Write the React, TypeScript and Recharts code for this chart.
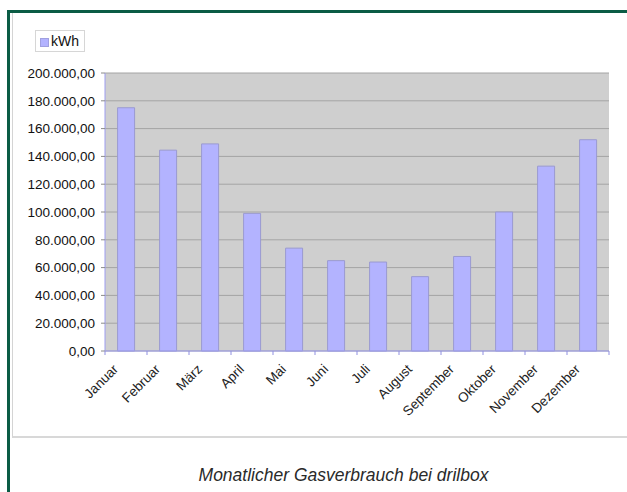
import { BarChart, Bar, XAxis, YAxis, CartesianGrid, Legend } from 'recharts'

const months = [
  'Januar', 'Februar', 'März', 'April', 'Mai', 'Juni',
  'Juli', 'August', 'September', 'Oktober', 'November', 'Dezember',
]
const kwh = [175000, 144500, 149000, 99000, 74000, 65000, 64000, 53500, 68000, 100000, 133000, 152000]
const yTicks = [0, 20000, 40000, 60000, 80000, 100000, 120000, 140000, 160000, 180000, 200000]

const data = months.map((m, i) => ({ month: m, kWh: kwh[i] }))

const W = 627
const H = 492
const X_H = 30
const M = { top: 73, right: 18, bottom: 141 - X_H, left: 0 }
const Y_W = 105
const BAND = (W - M.right - Y_W) / months.length
const FONT = 'Arial, "Liberation Sans", sans-serif'

const fmt = (v: number) => {
  const [i, d] = v.toFixed(2).split('.')
  return i.replace(/\B(?=(\d{3})+(?!\d))/g, '.') + ',' + d
}

const XTick = (props: any) => {
  const { x, y, payload, index } = props
  const half = BAND / 2
  return (
    <g>
      <line x1={x - half} x2={x - half} y1={y} y2={y + 4} stroke="#8f8fe0" />
      {index === months.length - 1 && (
        <line x1={x + half} x2={x + half} y1={y} y2={y + 4} stroke="#8f8fe0" />
      )}
      <text
        x={x - 7}
        y={y + 19}
        textAnchor="end"
        transform={`rotate(-45 ${x - 7} ${y + 19})`}
        fontSize={13.5}
        fontFamily={FONT}
        fill="#222"
      >
        {payload.value}
      </text>
    </g>
  )
}

const LegendBox = () => (
  <div
    style={{
      position: 'absolute',
      left: 35,
      top: 30,
      width: 48,
      height: 20,
      border: '1px solid #d6d6d6',
      fontFamily: FONT,
      fontSize: 14,
      color: '#111',
    }}
  >
    <span
      style={{
        position: 'absolute',
        left: 4,
        top: 7,
        width: 7,
        height: 7,
        background: '#b3b3ff',
        border: '1px solid #a0a0e0',
      }}
    />
    <span style={{ position: 'absolute', left: 15, top: 2 }}>kWh</span>
  </div>
)

export default function App() {
  return (
    <div style={{ position: 'absolute', left: 0, top: 0, width: W, height: H, background: '#fff', overflow: 'hidden' }}>
      <div style={{ position: 'absolute', left: 7, top: 10, width: 700, height: 600, borderTop: '3px solid #0b5c45', borderLeft: '3px solid #0b5c45' }} />
      <div style={{ position: 'absolute', left: 12, top: 13, width: 700, height: 423, borderLeft: '1px solid #d4d4d4', borderBottom: '2px solid #d8d8d8' }} />
      <BarChart
        width={W}
        height={H}
        data={data}
        margin={M}
        barCategoryGap="30%"
        style={{ position: 'absolute', left: 0, top: 0 }}
      >
        <CartesianGrid vertical={false} fill="#cfcfcf" stroke="#a4a4a4" strokeWidth={1} />
        <XAxis
          dataKey="month"
          interval={0}
          height={X_H}
          tickSize={0}
          tickMargin={0}
          tick={<XTick />}
          axisLine={{ stroke: '#9d9df0' }}
        />
        <YAxis
          width={Y_W}
          domain={[0, 200000]}
          ticks={yTicks}
          tickFormatter={fmt}
          tickSize={4}
          tickMargin={6}
          tickLine={{ stroke: '#8a8a8a' }}
          axisLine={{ stroke: '#9d9df0' }}
          tick={{ fill: '#111', fontSize: 13.5, fontFamily: FONT }}
        />
        <Legend content={<LegendBox />} wrapperStyle={{ position: 'absolute', left: 0, top: 0, width: 0, height: 0 }} />
        <Bar dataKey="kWh" fill="#b3b3ff" stroke="#9a9ad0" strokeWidth={1} isAnimationActive={false} />
      </BarChart>
      <div
        style={{
          position: 'absolute',
          left: 0,
          width: 687,
          top: 465,
          textAlign: 'center',
          fontFamily: FONT,
          fontStyle: 'italic',
          fontSize: 17.5,
          color: '#2a2a2a',
        }}
      >
        Monatlicher Gasverbrauch bei drilbox
      </div>
    </div>
  )
}
